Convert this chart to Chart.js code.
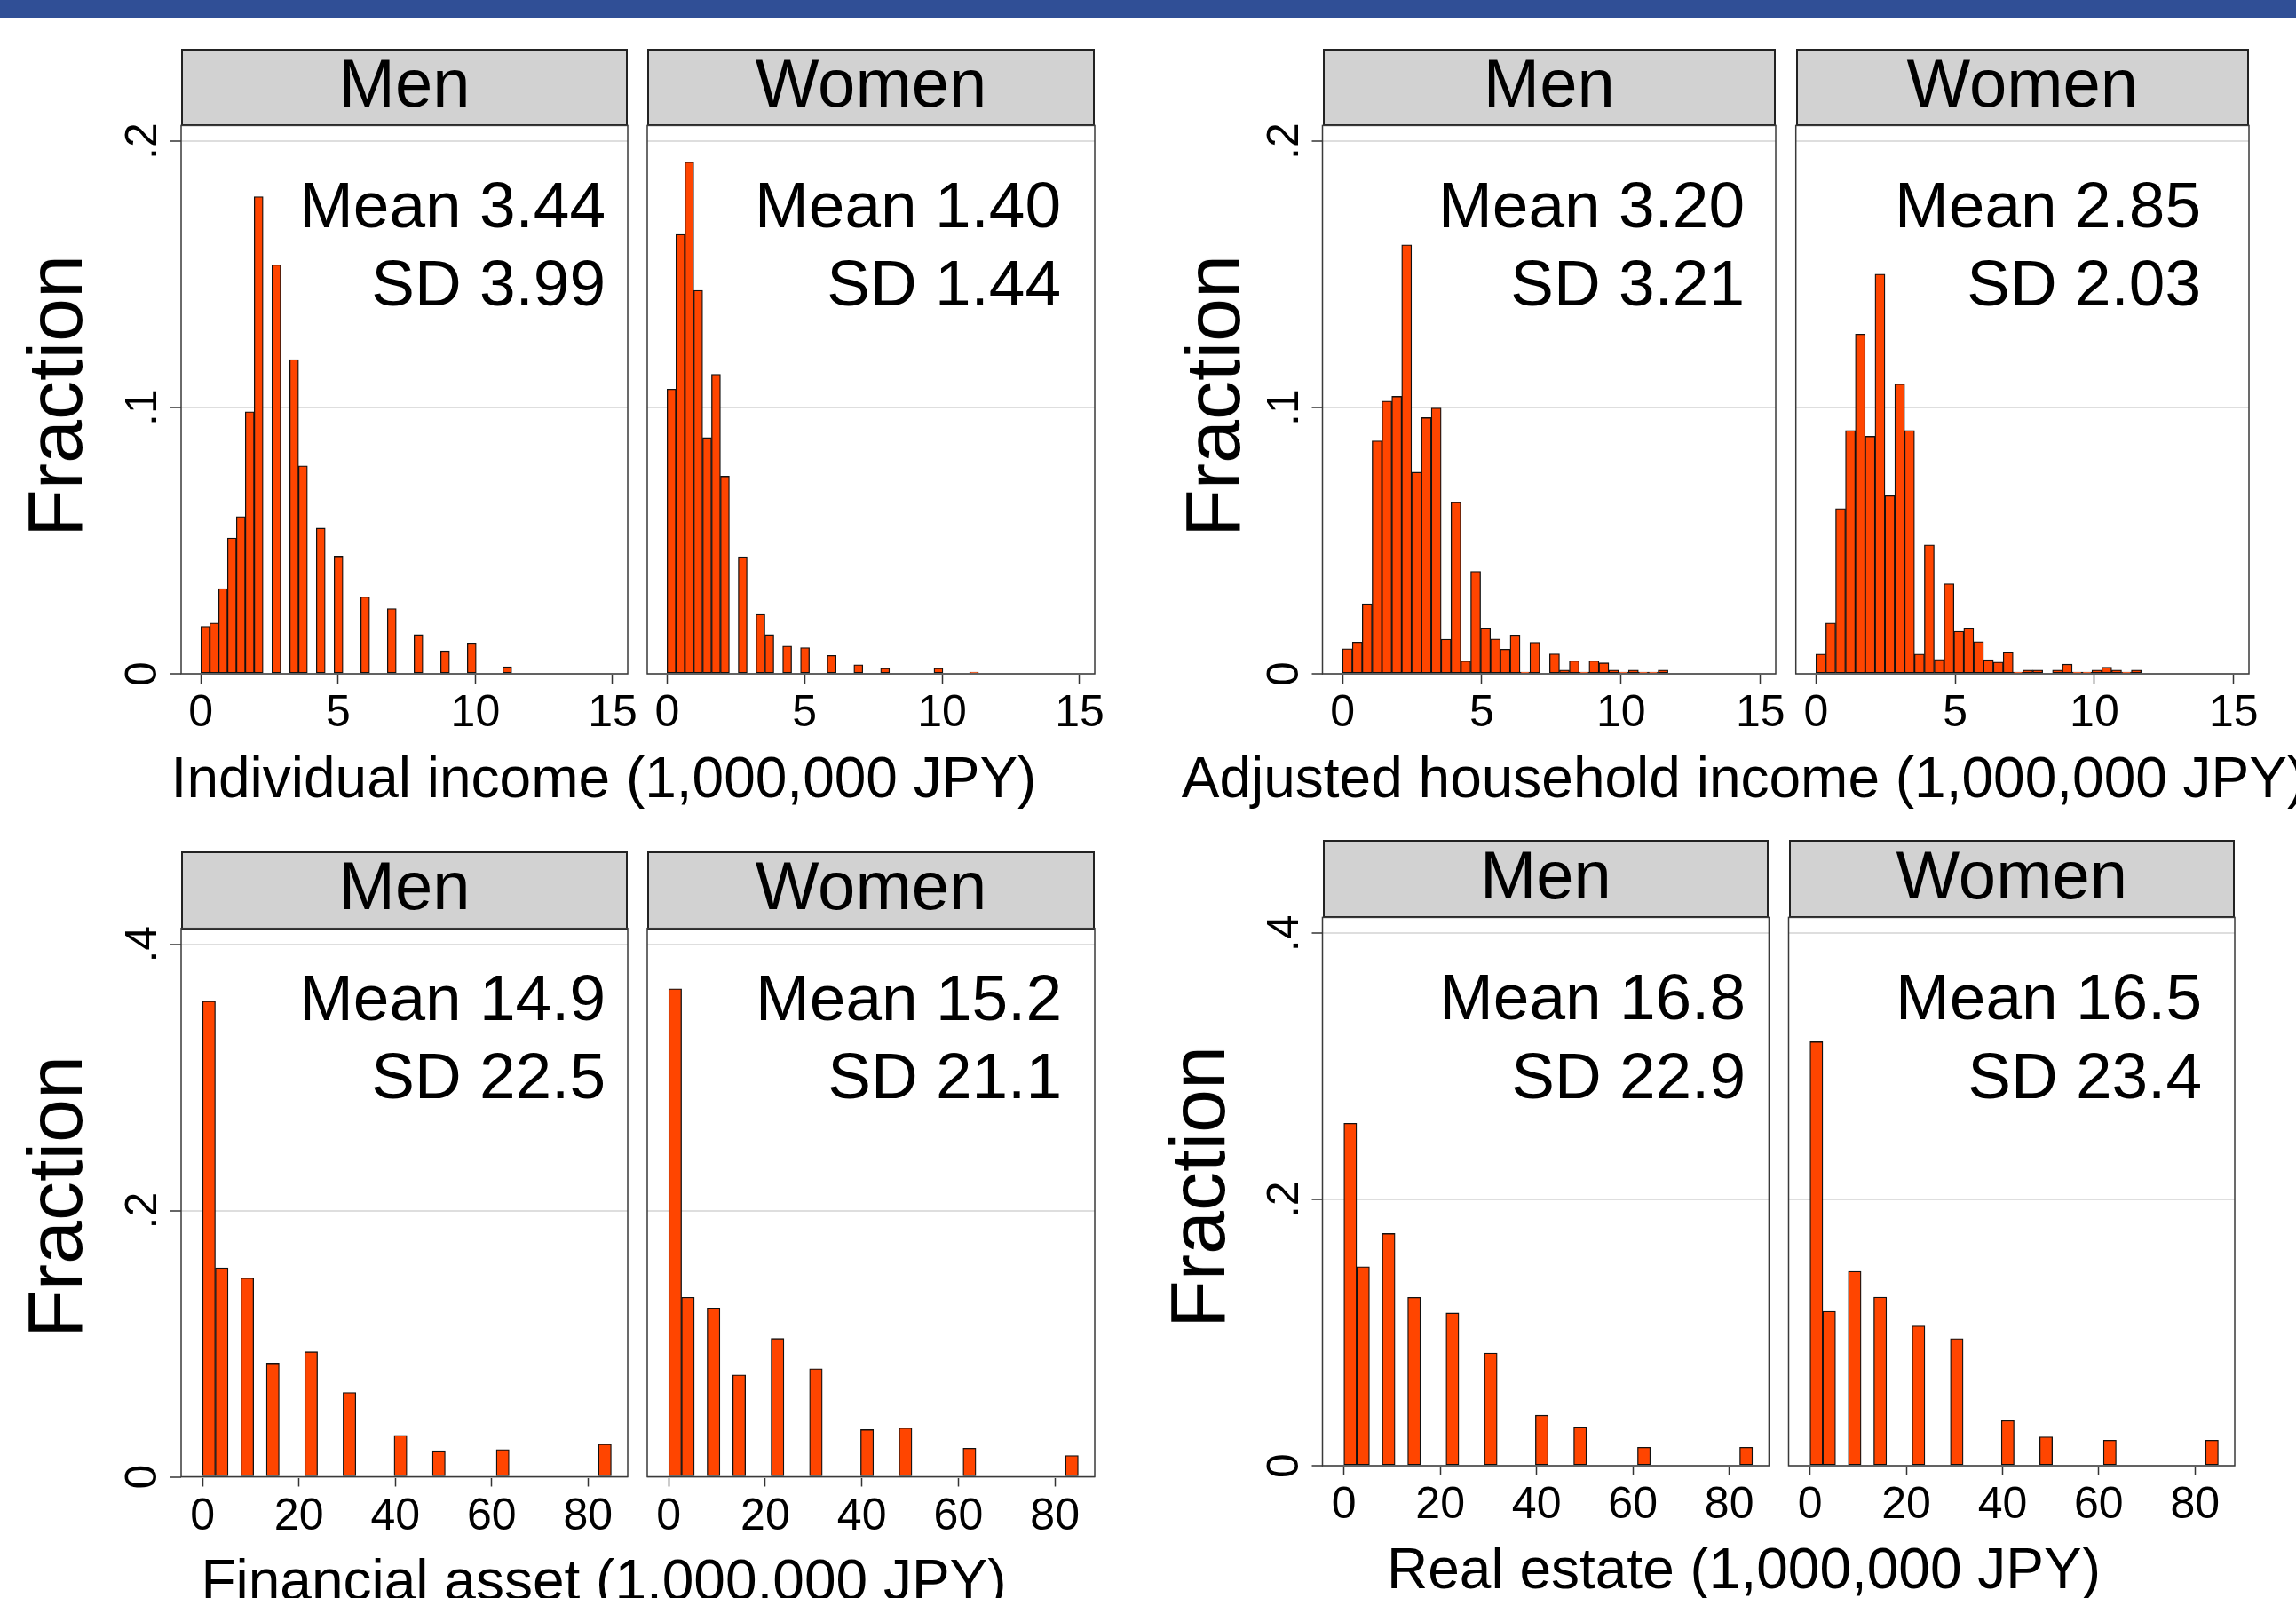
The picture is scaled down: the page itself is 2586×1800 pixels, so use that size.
<!DOCTYPE html>
<html>
<head>
<meta charset="utf-8">
<title>Income and wealth by sex</title>
<script src="https://cdn.jsdelivr.net/npm/chart.js@4.4.1/dist/chart.umd.min.js"></script>
<style>
  html, body { margin: 0; padding: 0; background: #fff; }
  body {
    width: 2586px; height: 1800px; position: relative; overflow: hidden;
    font-family: "Liberation Sans", Arial, Helvetica, sans-serif;
  }
  #topbar { position: absolute; left: 0; top: 0; width: 2586px; height: 20px; background: #304f96; }
  canvas { position: absolute; }
  .txt { position: absolute; white-space: nowrap; line-height: 1; color: #000; }
  .strip { position: absolute; box-sizing: border-box; background: #d2d2d2; border: 2px solid #222; }
</style>
</head>
<body>
<div id="topbar"></div>
<script>
// Histogram data (fraction per bin)

// Individual income: bin midpoints (1,000,000 JPY), only bins with data
const indIncomeBins  = [0.162, 0.485, 0.809, 1.132, 1.456, 1.779, 2.103, 2.750, 3.397, 3.720, 4.367, 5.014, 5.985, 6.955, 7.926, 8.896, 9.867, 11.161];
const indIncomeMen   = [0.0178, 0.0191, 0.0320, 0.0510, 0.0591, 0.0984, 0.1792, 0.1536, 0.1180, 0.0781, 0.0547, 0.0442, 0.0289, 0.0245, 0.0147, 0.0086, 0.0116, 0.0026];
const indIncomeWomen = [0.1069, 0.1650, 0.1922, 0.1440, 0.0887, 0.1125, 0.0742, 0.0440, 0.0223, 0.0147, 0.0104, 0.0098, 0.0069, 0.0034, 0.0021, null, 0.0021, 0.0006];

// Adjusted household income
const hhIncomeBins  = [0.177, 0.531, 0.885, 1.239, 1.593, 1.947, 2.301, 2.655, 3.009, 3.363, 3.717, 4.071, 4.425, 4.779, 5.133, 5.487, 5.841,
                       6.195, 6.549, 6.903, 7.257, 7.611, 7.965, 8.319, 8.673, 9.027, 9.381, 9.735, 10.089, 10.443, 10.797, 11.151, 11.505];
const hhIncomeMen   = [0.0094, 0.0119, 0.0263, 0.0875, 0.1024, 0.1042, 0.1611, 0.0757, 0.0962, 0.0998, 0.0130, 0.0644, 0.0048, 0.0385, 0.0172, 0.0131, 0.0092,
                       0.0146, 0.0006, 0.0118, null, 0.0075, 0.0014, 0.0049, 0.0006, 0.0049, 0.0041, 0.0014, 0.0006, 0.0014, 0.0006, 0.0006, 0.0014];
const hhIncomeWomen = [0.0074, 0.0191, 0.0621, 0.0914, 0.1276, 0.0892, 0.1501, 0.0669, 0.1088, 0.0914, 0.0074, 0.0484, 0.0054, 0.0338, 0.0160, 0.0172, 0.0121,
                       0.0053, 0.0044, 0.0082, 0.0006, 0.0014, 0.0014, null, 0.0014, 0.0036, 0.0006, 0.0006, 0.0014, 0.0025, 0.0014, 0.0006, 0.0014];

// Financial asset and real estate share the same bins
const assetBins  = [1.326, 3.977, 9.279, 14.581, 22.534, 30.487, 41.091, 49.044, 62.299, 83.507];
const finMen     = [0.3572, 0.1570, 0.1493, 0.0854, 0.0939, 0.0633, 0.0312, 0.0197, 0.0205, 0.0245];
const finWomen   = [0.3666, 0.1349, 0.1269, 0.0765, 0.1039, 0.0811, 0.0354, 0.0366, 0.0215, 0.0160];
const realMen    = [0.2573, 0.1496, 0.1745, 0.1265, 0.1148, 0.0847, 0.0379, 0.0291, 0.0138, 0.0138];
const realWomen  = [0.3186, 0.1160, 0.1461, 0.1267, 0.1050, 0.0955, 0.0339, 0.0217, 0.0191, 0.0191];

// Summary stats shown in each panel (Men, Women per measure)
const meanLabels = ['3.44', '1.40', '3.20', '2.85', '14.9', '15.2', '16.8', '16.5'];
const sdLabels   = ['3.99', '1.44', '3.21', '2.03', '22.5', '21.1', '22.9', '23.4'];

// Axis ticks
const incomeTicks     = [0, 5, 10, 15];
const assetTicks      = [0, 20, 40, 60, 80];
const incomeFracTicks = [0, 0.1, 0.2];
const incomeFracLabels = ['0', '.1', '.2'];
const assetFracTicks  = [0, 0.2, 0.4];
const assetFracLabels = ['0', '.2', '.4'];

const xTitles = ['Individual income (1,000,000 JPY)', 'Adjusted household income (1,000,000 JPY)',
                 'Financial asset (1,000,000 JPY)', 'Real estate (1,000,000 JPY)'];

const FONT = '"Liberation Sans", Arial, Helvetica, sans-serif';

// helpers for text placed by baseline
function place(text, x, baseline, size, align) {
    const d = document.createElement('div');
    d.className = 'txt';
    d.textContent = text;
    d.style.fontSize = size + 'px';
    d.style.left = x + 'px';
    d.style.top = (baseline - 0.8464 * size) + 'px';
    if (align === 'center') d.style.transform = 'translateX(-50%)';
    if (align === 'right') d.style.transform = 'translateX(-100%)';
    document.body.appendChild(d);
}

function placeVertical(text, cx, cy, size) {
    const d = document.createElement('div');
    d.className = 'txt';
    d.textContent = text;
    d.style.fontSize = size + 'px';
    d.style.left = cx + 'px';
    d.style.top = cy + 'px';
    d.style.transform = 'translate(-50%, -50%) rotate(-90deg)';
    document.body.appendChild(d);
}

// frame + tick labels
const panelFrame = {
    id: 'panelFrame',
    afterDraw(chart, args, opts) {
        const ctx = chart.ctx;
        const a = chart.chartArea;
        const sx = chart.scales.x, sy = chart.scales.y;
        ctx.save();
        ctx.strokeStyle = '#3a3a3a';
        ctx.lineWidth = 1.5;
        ctx.strokeRect(a.left, a.top, a.right - a.left, a.bottom - a.top);

        ctx.fillStyle = '#000';
        ctx.font = '50px ' + FONT;
        ctx.textAlign = 'center';
        ctx.textBaseline = 'alphabetic';
        opts.xTicks.forEach(function(v) {
            ctx.fillText(String(v), sx.getPixelForValue(v), a.bottom + 59);
        });
        if (opts.yLabels) {
            opts.yTicks.forEach(function(v, i) {
                ctx.save();
                ctx.translate(a.left - 46 + 18, sy.getPixelForValue(v));
                ctx.rotate(-Math.PI / 2);
                ctx.fillText(opts.yLabels[i], 0, 0);
                ctx.restore();
            });
        }
        ctx.restore();
    }
};

function drawPanel(p) {
    const bl = p.box[0], bt = p.box[1], br = p.box[2], bb = p.box[3];

    // strip header
    const s = document.createElement('div');
    s.className = 'strip';
    s.style.left = bl + 'px';
    s.style.top = p.stripTop + 'px';
    s.style.width = (br - bl) + 'px';
    s.style.height = (bt - p.stripTop + 1) + 'px';
    document.body.appendChild(s);
    place(p.head, (bl + br) / 2, bt - 21.5, 76, 'center');

    const padL = p.showY ? 100 : 16;
    const cl = Math.round(bl - padL), ct = Math.round(bt - 4);
    const w = Math.round(br + 30) - cl, h = Math.round(bb + 80) - ct;
    const cv = document.createElement('canvas');
    cv.width = w; cv.height = h;
    cv.style.left = cl + 'px'; cv.style.top = ct + 'px';
    cv.style.width = w + 'px'; cv.style.height = h + 'px';
    document.body.appendChild(cv);

    const points = p.bins.map(function(x, i) { return { x: x, y: p.values[i] }; })
                         .filter(function(d) { return d.y !== null; });

    new Chart(cv.getContext('2d'), {
        type: 'bar',
        data: {
            datasets: [{
                data: points,
                backgroundColor: '#ff4500',
                borderColor: '#111111',
                borderWidth: 1.3,
                borderSkipped: false,
                barPercentage: 1,
                categoryPercentage: 1
            }]
        },
        options: {
            responsive: false,
            devicePixelRatio: 1,
            animation: false,
            layout: { padding: { left: bl - cl, top: bt - ct, right: w - (br - cl), bottom: 0 } },
            scales: {
                x: {
                    type: 'linear',
                    offset: false,
                    min: p.xRange[0],
                    max: p.xRange[1],
                    afterBuildTicks: function(axis) { axis.ticks = p.xTicks.map(function(v) { return { value: v }; }); },
                    afterFit: function(axis) { axis.height = h - (bb - ct); },
                    ticks: { display: false },
                    border: { display: false },
                    grid: { offset: false, drawOnChartArea: false, drawTicks: true, tickLength: 11, tickColor: '#333', tickWidth: 1.5 }
                },
                y: {
                    type: 'linear',
                    min: 0,
                    max: p.yMax,
                    afterBuildTicks: function(axis) { axis.ticks = p.yTicks.map(function(v) { return { value: v }; }); },
                    afterFit: function(axis) { axis.width = 0; },
                    ticks: { display: false },
                    border: { display: false },
                    grid: { color: '#dedede', lineWidth: 2, drawTicks: p.showY, tickLength: 12, tickColor: '#333', tickWidth: 1.5 }
                }
            },
            plugins: {
                legend: { display: false },
                tooltip: { enabled: false },
                panelFrame: { xTicks: p.xTicks, yTicks: p.yTicks, yLabels: p.showY ? p.yLabels : null }
            }
        },
        plugins: [panelFrame]
    });

    place('Mean ' + p.mean, p.statsX, p.statsY[0], 73, 'right');
    place('SD ' + p.sd, p.statsX, p.statsY[1], 73, 'right');
}

const incomeRange = [-0.72, 15.55];
const assetRange = [-4.45, 88.25];

const panels = [
    { box: [204, 141.4, 707, 759],      stripTop: 54.6, head: 'Men',   bins: indIncomeBins, values: indIncomeMen,   statsX: 682,  statsY: [256, 344],     showY: true },
    { box: [729, 141.4, 1233, 759],     stripTop: 54.6, head: 'Women', bins: indIncomeBins, values: indIncomeWomen, statsX: 1195, statsY: [256, 344],     showY: false },
    { box: [1489.5, 141.4, 2000, 759],  stripTop: 54.6, head: 'Men',   bins: hhIncomeBins,  values: hhIncomeMen,    statsX: 1965, statsY: [256, 344],     showY: true },
    { box: [2022.7, 141.4, 2533, 759],  stripTop: 54.6, head: 'Women', bins: hhIncomeBins,  values: hhIncomeWomen,  statsX: 2479, statsY: [256, 344],     showY: false },
    { box: [204, 1045.7, 707, 1663.5],  stripTop: 959,  head: 'Men',   bins: assetBins,     values: finMen,         statsX: 682,  statsY: [1148.5, 1236.4], showY: true },
    { box: [729, 1045.7, 1233, 1663.5], stripTop: 959,  head: 'Women', bins: assetBins,     values: finWomen,       statsX: 1196, statsY: [1148.5, 1236.4], showY: false },
    { box: [1489.5, 1033.4, 1992.4, 1651], stripTop: 946.4, head: 'Men',   bins: assetBins, values: realMen,     statsX: 1966, statsY: [1148, 1237], showY: true },
    { box: [2014.5, 1033.4, 2517, 1651],   stripTop: 946.4, head: 'Women', bins: assetBins, values: realWomen,   statsX: 2480, statsY: [1148, 1237], showY: false }
];

panels.forEach(function(p, i) {
    const isIncome = i < 4;
    p.xRange = isIncome ? incomeRange : assetRange;
    p.xTicks = isIncome ? incomeTicks : assetTicks;
    p.yMax = isIncome ? 0.2059 : 0.412;
    p.yTicks = isIncome ? incomeFracTicks : assetFracTicks;
    p.yLabels = isIncome ? incomeFracLabels : assetFracLabels;
    p.mean = meanLabels[i];
    p.sd = sdLabels[i];
    drawPanel(p);
});

// axis titles
placeVertical('Fraction', 62, 446, 88);
placeVertical('Fraction', 1366, 446, 88);
placeVertical('Fraction', 62, 1348, 88);
placeVertical('Fraction', 1349, 1337, 88);

place(xTitles[0], 680, 898, 64, 'center');
place(xTitles[1], 1964, 898, 64, 'center');
place(xTitles[2], 680, 1802, 64, 'center');
place(xTitles[3], 1964, 1789, 64, 'center');
</script>
</body>
</html>
